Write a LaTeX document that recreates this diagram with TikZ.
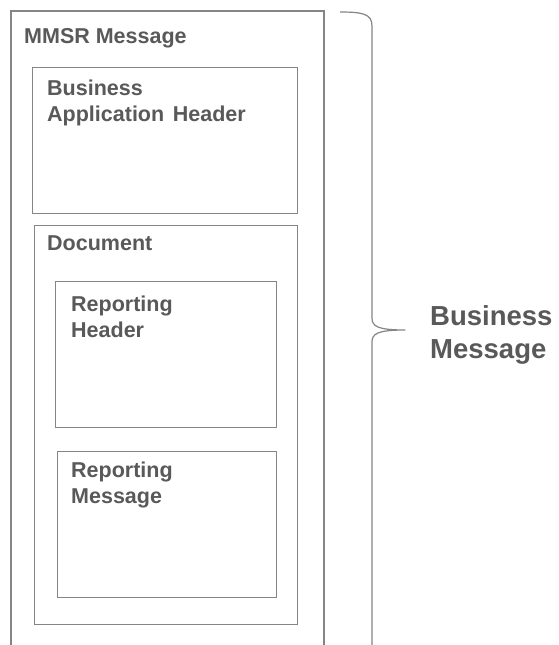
\documentclass[tikz,border=0pt]{standalone}
\usepackage{fontspec}
\setmainfont{Liberation Sans}
\definecolor{linegray}{HTML}{858585}
\definecolor{textgray}{HTML}{595959}
\newcommand\twolines[3][26pt]{\vtop{\baselineskip=#1\hbox{#2}\hbox{#3}}}
\tikzset{
  frame/.style={draw=linegray, line width=1.2pt},
  lbl/.style={anchor=base west, inner sep=0pt, text=textgray, font=\fontsize{21.5}{26}\selectfont\bfseries},
  biglbl/.style={anchor=base west, inner sep=0pt, text=textgray, font=\fontsize{27.5}{33}\selectfont\bfseries},
}
\begin{document}
\begin{tikzpicture}[x=1pt,y=-1pt]
\useasboundingbox[fill=white] (0,0) rectangle (558,645);
% outer MMSR frame (open at the bottom)
\coordinate (o1) at (11,650);
\coordinate (o2) at (11,11);
\coordinate (o3) at (324,11);
\coordinate (o4) at (324,650);
\draw[frame] (o1) -- (o2) -- (o3) -- (o4);
\node[lbl] (mmsr) at (24,43) {MMSR Message};
% Business Application Header
\node[frame, anchor=north west, minimum width=265pt, minimum height=146pt, inner sep=0pt] (bah) at (32,67) {};
\node[lbl] (bahtxt) at (47,95) {\twolines{Business}{Application\hspace{0.4em}Header}};
% Document
\node[frame, anchor=north west, minimum width=263pt, minimum height=399pt, inner sep=0pt] (doc) at (34,225) {};
\node[lbl] (doctxt) at (47,250) {Document};
% Reporting Header
\node[frame, anchor=north west, minimum width=221pt, minimum height=146pt, inner sep=0pt] (rh) at (55,281) {};
\node[lbl] (rhtxt) at (71,311) {\twolines{Reporting}{Header}};
% Reporting Message
\node[frame, anchor=north west, minimum width=219pt, minimum height=146pt, inner sep=0pt] (rm) at (57,451) {};
\node[lbl] (rmtxt) at (71,477) {\twolines{Reporting}{Message}};
% brace
\coordinate (bt) at (340,12);
\coordinate (tip) at (405,330);
\coordinate (bb) at (372,650);
\draw[draw=linegray, line width=1.2pt, line join=round]
  (bt) .. controls (363,12) and (372,14) .. (372,26) -- (372,318)
  .. controls (372,326) and (377,330) .. (tip)
  .. controls (377,330) and (372,334) .. (372,342) -- (bb);
\node[biglbl] (bm) at (430,325) {\twolines[33pt]{Business}{Message}};
\end{tikzpicture}
\end{document}
